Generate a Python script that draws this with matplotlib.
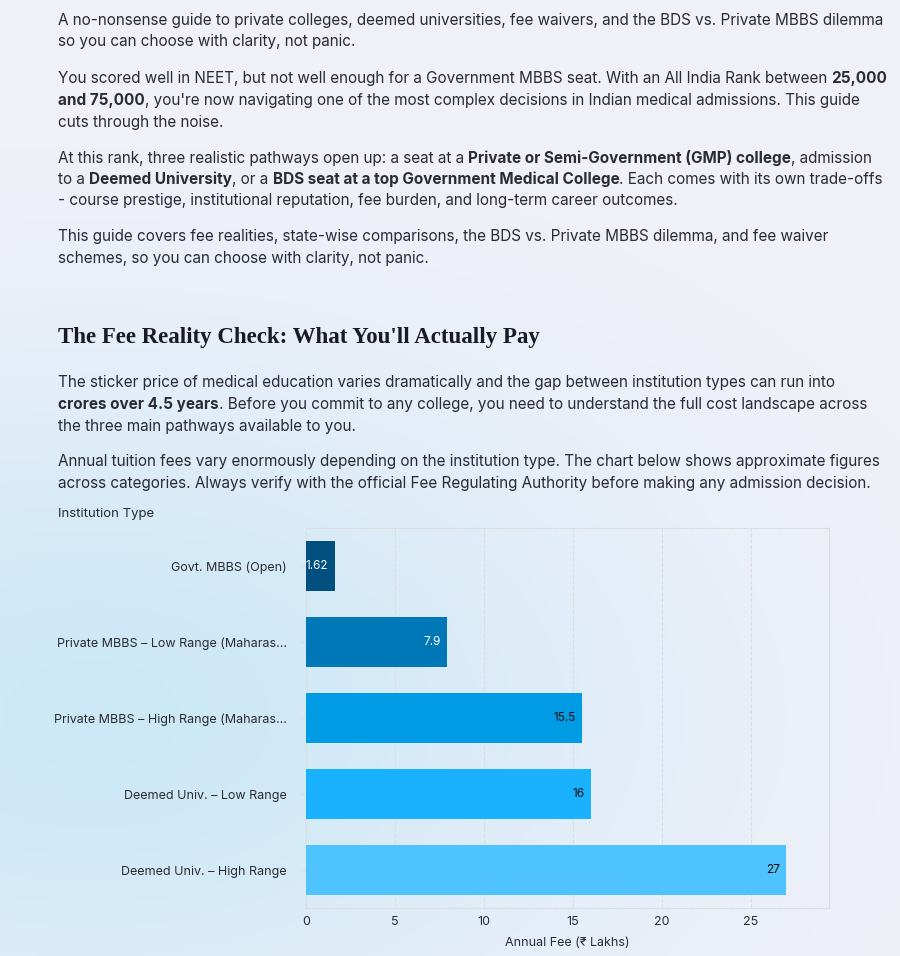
import matplotlib.pyplot as plt
import numpy as np

plt.rcParams['font.family'] = ['Inter', 'DejaVu Sans']

categories = ['Govt. MBBS (Open)', 'Private MBBS – Low Range (Maharas...',
              'Private MBBS – High Range (Maharas...', 'Deemed Univ. – Low Range',
              'Deemed Univ. – High Range']
fees = [1.62, 7.9, 15.5, 16, 27]
bar_colors = ['#00507f', '#0077b6', '#009be5', '#1ab2ff', '#4fc3fd']
label_colors = ['white', 'white', '#111111', '#111111', '#111111']
x_ticks = [0, 5, 10, 15, 20, 25]

# paragraphs as runs of (text, bold)
paragraphs = [
    [[("A no-nonsense guide to private colleges, deemed universities, fee waivers, and the BDS vs. Private MBBS dilemma", False)],
     [("so you can choose with clarity, not panic.", False)]],
    [[("You scored well in NEET, but not well enough for a Government MBBS seat. With an All India Rank between ", False), ("25,000", True)],
     [("and 75,000", True), (", you're now navigating one of the most complex decisions in Indian medical admissions. This guide", False)],
     [("cuts through the noise.", False)]],
    [[("At this rank, three realistic pathways open up: a seat at a ", False), ("Private or Semi-Government (GMP) college", True), (", admission", False)],
     [("to a ", False), ("Deemed University", True), (", or a ", False), ("BDS seat at a top Government Medical College", True), (". Each comes with its own trade-offs", False)],
     [("- course prestige, institutional reputation, fee burden, and long-term career outcomes.", False)]],
    [[("This guide covers fee realities, state-wise comparisons, the BDS vs. Private MBBS dilemma, and fee waiver", False)],
     [("schemes, so you can choose with clarity, not panic.", False)]],
]
para_tops = [20, 79, 158, 237]
paragraphs2 = [
    [[("The sticker price of medical education varies dramatically and the gap between institution types can run into", False)],
     [("crores over 4.5 years", True), (". Before you commit to any college, you need to understand the full cost landscape across", False)],
     [("the three main pathways available to you.", False)]],
    [[("Annual tuition fees vary enormously depending on the institution type. The chart below shows approximate figures", False)],
     [("across categories. Always verify with the official Fee Regulating Authority before making any admission decision.", False)]],
]
para2_tops = [383, 462]

W, H = 900, 956
fig = plt.figure(figsize=(9, 9.56), dpi=100)

# background gradient
bg = fig.add_axes([0, 0, 1, 1], zorder=-10)
yy, xx = np.mgrid[0:1:200j, 0:1:200j]
blob = np.exp(-(((xx - 0.1) / 0.6) ** 2 + ((yy - 0.75) / 0.35) ** 2))
base = np.array([0.945, 0.945, 0.975])
blue = np.array([0.80, 0.91, 0.97])
img = base[None, None, :] * (1 - blob[..., None]) + blue[None, None, :] * blob[..., None]
bg.imshow(img, extent=[0, 1, 0, 1], aspect='auto', origin='upper')
bg.axis('off')

fig.canvas.draw()
renderer = fig.canvas.get_renderer()
txt_color = '#2b2b33'


def draw_line(runs, x_px, y_px, size=11):
    x = x_px
    for s, bold in runs:
        t = fig.text(x / W, 1 - y_px / H, s, fontsize=size, color=txt_color,
                     fontweight='bold' if bold else 'normal', va='center', ha='left')
        bb = t.get_window_extent(renderer=renderer)
        x += bb.width


def draw_paras(paras, tops):
    for para, top in zip(paras, tops):
        for i, line in enumerate(para):
            draw_line(line, 58, top + i * 21.5)


draw_paras(paragraphs, para_tops)
fig.text(58 / W, 1 - 337 / H, "The Fee Reality Check: What You'll Actually Pay",
         fontsize=16.5, fontweight='bold', family=['Liberation Serif', 'DejaVu Serif'],
         color='#1a1a22', va='center')
draw_paras(paragraphs2, para2_tops)
fig.text(58 / W, 1 - 514 / H, 'Institution Type', fontsize=9.5, color=txt_color, va='center')

ax = fig.add_axes([306 / W, 1 - 908 / H, (829 - 306) / W, (908 - 528) / H])
ax.patch.set_alpha(0)
y = np.arange(len(categories))
bars = ax.barh(y, fees, height=0.66, color=bar_colors, zorder=3)
for b, v, c in zip(bars, fees, label_colors):
    ax.text(v - 0.35, b.get_y() + b.get_height() / 2, f'{v:g}', ha='right', va='center',
            fontsize=8.5, color=c, zorder=4)
ax.set_ylim(len(categories) - 0.5, -0.5)
ax.set_xlim(0, 29.4)
ax.set_yticks(y)
ax.set_yticklabels(categories, fontsize=9, color=txt_color)
ax.set_xticks(x_ticks)
ax.tick_params(axis='x', labelsize=9, colors=txt_color, length=0, pad=6)
ax.tick_params(axis='y', length=4, color='#dddddd', pad=10)
ax.grid(axis='x', linestyle='--', color='#dddddd', linewidth=0.8, zorder=0)
for sp in ax.spines.values():
    sp.set_linestyle('--')
    sp.set_color('#dddddd')
    sp.set_linewidth(0.8)
ax.set_xlabel('Annual Fee (₹ Lakhs)', fontsize=9, color=txt_color, labelpad=6)

fig.savefig('out.png', dpi=100)
